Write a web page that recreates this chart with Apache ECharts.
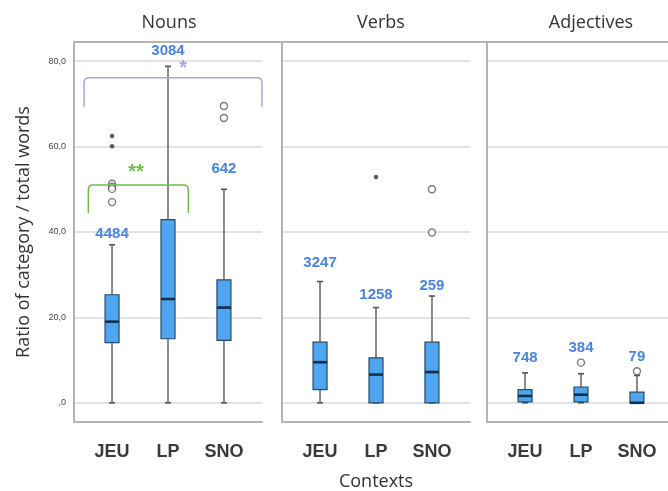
<!DOCTYPE html>
<html>
<head>
<meta charset="utf-8">
<script src="https://cdn.jsdelivr.net/npm/echarts@6/dist/echarts.min.js"></script>
<style>
  html, body { margin: 0; padding: 0; background: #fff; }
  #chart { width: 668px; height: 491px; }
</style>
</head>
<body>
<div id="chart"></div>
<script>
// Word-category ratios per context, one panel per part of speech.
const panelTitles = ['Nouns', 'Verbs', 'Adjectives'];
const categories = ['JEU', 'LP', 'SNO'];
const yTicks = [0, 20, 40, 60, 80];

// Box summaries: [low whisker, Q1, median, Q3, high whisker]
const nounsBoxes = [[0, 14.1, 19.0, 25.3, 37.0], [0, 15.0, 24.3, 42.9, 78.8], [0, 14.6, 22.3, 28.8, 50.0]];
const verbsBoxes = [[0, 3.1, 9.5, 14.2, 28.4], [0, 0, 6.6, 10.5, 22.3], [0, 0, 7.2, 14.2, 25.0]];
const adjectivesBoxes = [[0, 0.2, 1.6, 3.1, 7.0], [0, 0.2, 1.9, 3.7, 6.8], [0, 0, 0, 2.5, 6.4]];

// Number of texts per box
const nounsCounts = [4484, 3084, 642];
const verbsCounts = [3247, 1258, 259];
const adjectivesCounts = [748, 384, 79];

// Outliers [category index (1-based), value]; extremes are drawn as dots
const nounsOutliers = [[1, 51.3], [1, 50.6], [1, 50.1], [1, 47.0], [3, 69.5], [3, 66.7]];
const nounsExtremes = [[1, 62.5], [1, 60.1]];
const verbsOutliers = [[3, 50.0], [3, 39.9]];
const verbsExtremes = [[2, 52.9]];
const adjectivesOutliers = [[2, 9.4], [3, 7.4]];
const adjectivesExtremes = [];

// Significance brackets in the Nouns panel
const brackets = [
  { from: 0.50, to: 3.68, top: 76.1, foot: 69.3, mark: '*', markX: 2.27, markY: 78.2, color: '#aaa6df' },
  { from: 0.576, to: 2.363, top: 51.0, foot: 44.4, mark: '**', markX: 1.43, markY: 54.0, color: '#6cbf48' }
];

// ---- styling ----
const panelLeft = [74, 282, 487];
const panelWidth = 188;
const gridTop = 42;
const gridHeight = 380;
const frameColor = '#b4b4b4';
const gridColor = '#dadada';
const countColor = '#4784e4';
// vertical gap (px) between whisker top and the count label centre
const labelLift = [[11, 15, 20], [19, 13, 10], [15, 26, 19]];

const panels = [
  { boxes: nounsBoxes, counts: nounsCounts, outliers: nounsOutliers, extremes: nounsExtremes },
  { boxes: verbsBoxes, counts: verbsCounts, outliers: verbsOutliers, extremes: verbsExtremes },
  { boxes: adjectivesBoxes, counts: adjectivesCounts, outliers: adjectivesOutliers, extremes: adjectivesExtremes }
];

function fmtTick(v) {
  return v === 0 ? ',0' : v.toFixed(1).replace('.', ',');
}

function boxRenderer(lifts) {
  return function (params, api) {
    const x = api.value(0);
    const lo = api.value(1), q1 = api.value(2), med = api.value(3), q3 = api.value(4), hi = api.value(5);
    const count = api.value(6);
    const pLo = api.coord([x, lo]);
    const pQ1 = api.coord([x, q1]);
    const pMed = api.coord([x, med]);
    const pQ3 = api.coord([x, q3]);
    const pHi = api.coord([x, hi]);
    const cx = pLo[0];
    const half = 7;
    const cap = 3;
    const whisker = { stroke: '#8a8a8a', lineWidth: 2 };
    const capStyle = { stroke: '#555', lineWidth: 1.6 };
    const children = [
      { type: 'line', shape: { x1: cx, y1: pHi[1], x2: cx, y2: pQ3[1] }, style: whisker },
      { type: 'line', shape: { x1: cx, y1: pQ1[1], x2: cx, y2: pLo[1] }, style: whisker },
      { type: 'line', shape: { x1: cx - cap, y1: pHi[1], x2: cx + cap, y2: pHi[1] }, style: capStyle },
      { type: 'line', shape: { x1: cx - cap, y1: pLo[1], x2: cx + cap, y2: pLo[1] }, style: capStyle },
      {
        type: 'rect',
        shape: { x: cx - half, y: pQ3[1], width: half * 2, height: Math.max(pQ1[1] - pQ3[1], 1) },
        style: { fill: '#4fa6ee', stroke: '#26496e', lineWidth: 1.2 }
      },
      { type: 'line', shape: { x1: cx - half, y1: pMed[1], x2: cx + half, y2: pMed[1] }, style: { stroke: '#142f4c', lineWidth: 2.6 } },
      {
        type: 'text',
        style: {
          x: cx, y: pHi[1] - lifts[params.dataIndex], text: String(count),
          fill: countColor, font: 'bold 15px "Liberation Sans", Arial, sans-serif',
          align: 'center', verticalAlign: 'middle'
        }
      }
    ];
    return { type: 'group', children: children };
  };
}

function bracketRenderer(params, api) {
  const b = brackets[params.dataIndex];
  const a = api.coord([b.from, b.foot]);
  const t1 = api.coord([b.from, b.top]);
  const t2 = api.coord([b.to, b.top]);
  const d = api.coord([b.to, b.foot]);
  const r = 5;
  const path = 'M' + a[0] + ' ' + a[1] +
    ' L' + t1[0] + ' ' + (t1[1] + r) +
    ' Q' + t1[0] + ' ' + t1[1] + ' ' + (t1[0] + r) + ' ' + t1[1] +
    ' L' + (t2[0] - r) + ' ' + t2[1] +
    ' Q' + t2[0] + ' ' + t2[1] + ' ' + t2[0] + ' ' + (t2[1] + r) +
    ' L' + d[0] + ' ' + d[1];
  const m = api.coord([b.markX, b.markY]);
  return {
    type: 'group',
    children: [
      { type: 'path', shape: { pathData: path }, style: { fill: null, stroke: b.color, lineWidth: 1.5 } },
      {
        type: 'text',
        style: {
          x: m[0], y: m[1], text: b.mark, fill: b.color,
          font: 'bold 20px "Liberation Sans", Arial, sans-serif',
          align: 'center', verticalAlign: 'middle'
        }
      }
    ]
  };
}

const grids = [], xAxes = [], yAxes = [], series = [], titles = [];

panels.forEach(function (p, i) {
  grids.push({
    left: panelLeft[i], top: gridTop, width: panelWidth, height: gridHeight,
    containLabel: false, outerBoundsMode: 'none'
  });
  titles.push({
    text: panelTitles[i],
    left: panelLeft[i] + panelWidth / 2 - (i === 0 ? 4 : (i === 2 ? -5 : 0)),
    top: 9,
    textAlign: 'center',
    textStyle: { fontFamily: '"Open Sans", sans-serif', fontSize: 18, fontWeight: 'normal', color: '#333' }
  });
  xAxes.push({
    type: 'value', gridIndex: i, min: 0.32, max: 3.68,
    axisLine: { show: true, onZero: false, lineStyle: { color: frameColor, width: 2 } },
    axisTick: { show: false },
    splitLine: { show: false },
    axisLabel: {
      customValues: [1, 2, 3],
      formatter: function (v) { return categories[Math.round(v) - 1]; },
      margin: 21,
      fontFamily: '"Liberation Sans", Arial, sans-serif',
      fontSize: 18, fontWeight: 'bold', color: '#3a3a3a'
    },
    name: i === 1 ? 'Contexts' : '',
    nameLocation: 'middle',
    nameGap: 51,
    nameTextStyle: { fontFamily: '"Open Sans", sans-serif', fontSize: 18, color: '#333' }
  });
  yAxes.push({
    type: 'value', gridIndex: i, min: -4.5, max: 84.5,
    axisLine: { show: true, lineStyle: { color: frameColor, width: 2 } },
    axisTick: { show: false, customValues: yTicks },
    splitLine: { show: true, lineStyle: { color: gridColor, width: 1.5 } },
    axisLabel: {
      show: i === 0,
      customValues: yTicks,
      formatter: fmtTick,
      margin: 8,
      fontFamily: '"Liberation Sans", Arial, sans-serif',
      fontSize: 9, color: '#444'
    },
    name: i === 0 ? 'Ratio of category / total words' : '',
    nameLocation: 'middle',
    nameGap: 41,
    nameTextStyle: { fontFamily: '"Open Sans", sans-serif', fontSize: 18, color: '#333' }
  });

  const boxData = p.boxes.map(function (b, k) { return [k + 1].concat(b).concat([p.counts[k]]); });
  series.push({
    type: 'custom', xAxisIndex: i, yAxisIndex: i,
    renderItem: boxRenderer(labelLift[i]),
    encode: { x: 0, y: [1, 2, 3, 4, 5] },
    data: boxData, z: 2
  });
  series.push({
    type: 'scatter', xAxisIndex: i, yAxisIndex: i,
    data: p.outliers, symbol: 'circle', symbolSize: 7,
    itemStyle: { color: '#fff', borderColor: '#5a5a5a', borderWidth: 1.4 },
    z: 3, silent: true
  });
  series.push({
    type: 'scatter', xAxisIndex: i, yAxisIndex: i,
    data: p.extremes, symbol: 'circle', symbolSize: 4.5,
    itemStyle: { color: '#333' },
    z: 3, silent: true
  });
});

series.push({
  type: 'custom', xAxisIndex: 0, yAxisIndex: 0,
  renderItem: bracketRenderer,
  data: brackets.map(function (b) { return [b.from, b.top]; }),
  z: 4, silent: true
});

const chart = echarts.init(document.getElementById('chart'), null, { renderer: 'canvas' });
chart.setOption({
  backgroundColor: '#fff',
  animation: false,
  title: titles,
  grid: grids,
  xAxis: xAxes,
  yAxis: yAxes,
  series: series,
  graphic: [{
    type: 'line',
    shape: { x1: panelLeft[0], y1: gridTop, x2: 668, y2: gridTop },
    style: { stroke: frameColor, lineWidth: 2 },
    z: 10
  }]
});
</script>
</body>
</html>
